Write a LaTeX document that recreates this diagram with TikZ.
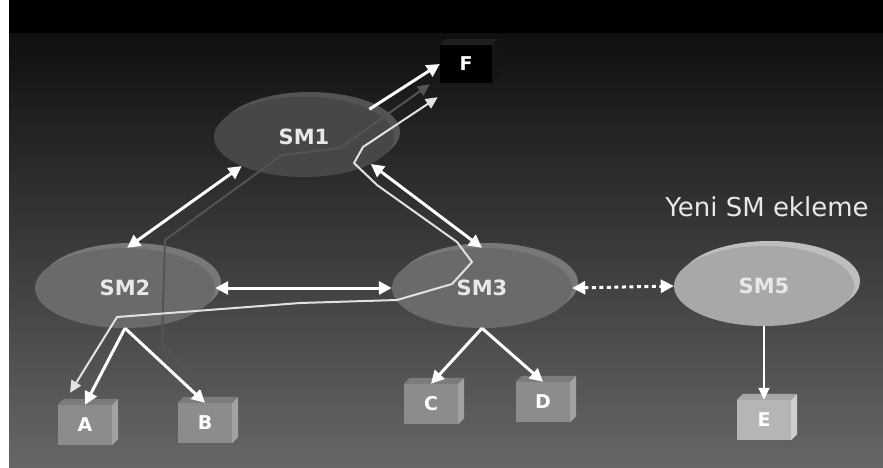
\documentclass[tikz,border=0pt]{standalone}
\usepackage{fontspec}
\setmainfont{DejaVu Sans}
\usetikzlibrary{arrows.meta,shapes.geometric}

\definecolor{smlabel}{HTML}{E8E8E8}
\definecolor{smonebody}{HTML}{474747}
\definecolor{smonerim}{HTML}{535353}
\definecolor{smbody}{HTML}{6A6A6A}
\definecolor{smrim}{HTML}{787878}
\definecolor{newbody}{HTML}{A8A8A8}
\definecolor{newrim}{HTML}{BEBEBE}
\definecolor{cubefront}{HTML}{8C8C8C}
\definecolor{cubeside}{HTML}{A2A2A2}
\definecolor{cubetop}{HTML}{7C7C7C}
\definecolor{newfront}{HTML}{B5B5B5}
\definecolor{newside}{HTML}{CFCFCF}
\definecolor{newtop}{HTML}{A6A6A6}
\definecolor{routegray}{HTML}{545454}
\definecolor{routelight}{HTML}{E2E2E2}

% side and top faces of a box drawn round a named front face
\newcommand\boxfaces[3]{%
  \fill[#3] (#1.north west) -- ++(6,-6) -- ([shift={(6,-6)}]#1.north east) -- (#1.north east) -- cycle;
  \fill[#2] (#1.north east) -- ++(6,-6) -- ([shift={(6,-6)}]#1.south east) -- (#1.south east) -- cycle;}

\begin{document}
\begin{tikzpicture}[x=1pt,y=-1pt,
  smnode/.style={ellipse, minimum width=180pt, minimum height=80pt, inner sep=0pt,
    text=smlabel, font=\bfseries\fontsize{21}{24}\selectfont},
  cubeface/.style={rectangle, minimum width=54pt, minimum height=40pt, inner sep=0pt,
    text=white, font=\bfseries\fontsize{19}{22}\selectfont},
  link/.style={draw=white, line width=3pt, {Triangle[length=13pt,width=13pt]}-{Triangle[length=13pt,width=13pt]}},
  feed/.style={draw=white, line width=3pt, -{Triangle[length=13pt,width=13pt]}},
]
\useasboundingbox (0,0) rectangle (883,467);

% background
\fill[white] (0,0) rectangle (883,467);
\fill[black] (9,0) rectangle (883,33);
\shade[top color=black!94, bottom color=black!60] (9,33) rectangle (883,467);

% switching modules
\fill[smonerim] (310,132) ellipse [x radius=90, y radius=40];
\node[smnode, fill=smonebody] (SM1) at (304,137) {SM1};
\fill[smrim] (131,283) ellipse [x radius=90, y radius=40];
\node[smnode, fill=smbody] (SM2) at (125,288) {SM2};
\fill[smrim] (488,283) ellipse [x radius=90, y radius=40];
\node[smnode, fill=smbody] (SM3) at (482,288) {SM3};
\fill[newrim] (770,281) ellipse [x radius=90, y radius=40];
\node[smnode, fill=newbody] (SM5) at (764,286) {SM5};

% terminals
\node[cubeface, fill=black, minimum width=52pt, minimum height=38pt] (F) at (466,64) {F};
\boxfaces{F}{black!92}{black!88}
\node[cubeface, fill=cubefront] (A) at (85,425) {A};
\boxfaces{A}{cubeside}{cubetop}
\node[cubeface, fill=cubefront] (B) at (205,423) {B};
\boxfaces{B}{cubeside}{cubetop}
\node[cubeface, fill=cubefront] (C) at (431,404) {C};
\boxfaces{C}{cubeside}{cubetop}
\node[cubeface, fill=cubefront] (D) at (543,402) {D};
\boxfaces{D}{cubeside}{cubetop}
\node[cubeface, fill=newfront] (E) at (764,420) {E};
\boxfaces{E}{newside}{newtop}

% caption of the new module
\node[anchor=base, text=smlabel, font=\fontsize{26}{30}\selectfont, inner sep=0pt] (yeni) at (767,216) {Yeni SM ekleme};

% trunks between modules
\draw[link] (SM1.205) -- (SM2.87);
\draw[link] (SM1.-22) -- (SM3.90);
\draw[link] (SM2.east) -- (SM3.west);
\draw[white, line width=3pt, dash pattern=on 4pt off 3.5pt,
  {Triangle[length=13pt,width=13pt]}-{Triangle[length=13pt,width=13pt]}] (SM3.east) -- (SM5.west);

% subscriber lines
\draw[feed] (SM1.23) -- (F.west);
\draw[feed] (SM2.south) -- (A.north);
\draw[feed] (SM2.south) -- (B.north);
\draw[feed] (SM3.south) -- (C.north);
\draw[feed] (SM3.south) -- (D.north);
\draw[draw=white, line width=2pt, -{Triangle[length=12pt,width=11pt]}] (SM5.south) -- (E.north);

% call routes
\draw[routegray, line width=2pt, {Triangle[length=12pt,width=11pt]}-{Triangle[length=12pt,width=11pt]}]
  ([xshift=3pt,yshift=10pt]B.north) -- (162,343) -- (165,240) -- (282,155) -- (340,148)
  -- ([xshift=-10pt,yshift=-1pt]F.south west);
\draw[routelight, line width=2pt, line join=round, {Triangle[length=12pt,width=11pt]}-{Triangle[length=12pt,width=11pt]}]
  ([xshift=-2pt,yshift=-14pt]F.south west) -- (363,147) -- (354,163) -- (377,185) -- (457,242)
  -- (472,262) -- (452,284) -- (397,300) -- (300,303) -- (117,317)
  -- ([xshift=-15pt,yshift=12pt]A.north);
\end{tikzpicture}
\end{document}
